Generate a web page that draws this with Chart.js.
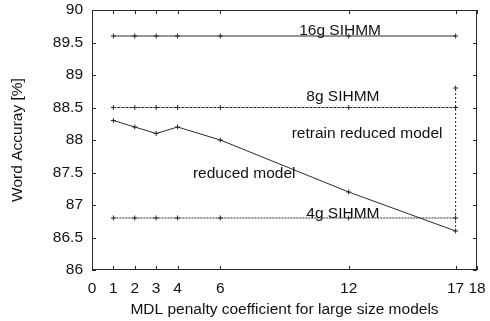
<!DOCTYPE html>
<html lang="en">
<head>
    <meta charset="UTF-8">
    <title>Word accuracy vs MDL penalty coefficient</title>
    <script src="https://cdn.jsdelivr.net/npm/chart.js"></script>
    <style>
        html, body { margin: 0; padding: 0; background: #fff; }
        .wrap { width: 490px; height: 321px; }
    </style>
</head>
<body>
    <div class="wrap"><canvas id="chart" width="490" height="321"></canvas></div>

    <script>
        // MDL penalty coefficients
        const penalty = [1, 2, 3, 4, 6, 12, 17];
        // word accuracy [%]
        const sihmm16 = [89.6, 89.6, 89.6, 89.6, 89.6, 89.6, 89.6];
        const sihmm8 = [88.5, 88.5, 88.5, 88.5, 88.5, 88.5, 88.5];
        const sihmm4 = [86.8, 86.8, 86.8, 86.8, 86.8, 86.8, 86.8];
        const reduced = [88.3, 88.2, 88.1, 88.2, 88.0, 87.2, 86.6];
        // retrain at coefficient 17: from reduced to retrained accuracy
        const retrainX = [17, 17];
        const retrainY = [86.6, 88.8];

        const xTicks = [0, 1, 2, 3, 4, 6, 12, 17, 18];
        const yTicks = [86, 86.5, 87, 87.5, 88, 88.5, 89, 89.5, 90];

        const ink = '#2a2a2a';
        const font = "'Liberation Sans', Arial, sans-serif";
        const fs = 15.5;

        function pts(xs, ys) {
            return xs.map((x, i) => ({ x: x, y: ys[i] }));
        }

        function series(data, dash) {
            return {
                data: data,
                borderColor: ink,
                backgroundColor: ink,
                borderWidth: 1,
                borderDash: dash,
                pointStyle: 'cross',
                pointRadius: 2.5,
                pointBorderWidth: 1,
                pointBorderColor: ink,
                tension: 0
            };
        }

        // text labels placed in data coordinates
        const labels = [
            { text: '16g SIHMM', x: 11.6, y: 89.68, align: 'center' },
            { text: '8g SIHMM', x: 11.73, y: 88.66, align: 'center' },
            { text: 'retrain reduced model', x: 12.86, y: 88.09, align: 'center' },
            { text: 'reduced model', x: 4.72, y: 87.48, align: 'left' },
            { text: '4g SIHMM', x: 11.73, y: 86.87, align: 'center' }
        ];

        const framePlugin = {
            id: 'frame',
            afterDraw(chart) {
                const ctx = chart.ctx;
                const a = chart.chartArea;
                const xs = chart.scales.x;
                const ys = chart.scales.y;
                const len = 4;
                ctx.save();
                ctx.strokeStyle = ink;
                ctx.lineWidth = 1;
                ctx.strokeRect(a.left + 0.5, a.top + 0.5, a.right - a.left - 1, a.bottom - a.top - 1);
                ctx.beginPath();
                xTicks.forEach(v => {
                    const px = Math.round(xs.getPixelForValue(v)) + 0.5;
                    ctx.moveTo(px, a.bottom);
                    ctx.lineTo(px, a.bottom - len);
                    ctx.moveTo(px, a.top);
                    ctx.lineTo(px, a.top + len);
                });
                yTicks.forEach(v => {
                    const py = Math.round(ys.getPixelForValue(v)) + 0.5;
                    ctx.moveTo(a.left, py);
                    ctx.lineTo(a.left + len, py);
                    ctx.moveTo(a.right, py);
                    ctx.lineTo(a.right - len, py);
                });
                ctx.stroke();

                ctx.fillStyle = '#111';
                ctx.font = fs + 'px ' + font;
                ctx.textBaseline = 'middle';
                labels.forEach(l => {
                    ctx.textAlign = l.align;
                    ctx.fillText(l.text, xs.getPixelForValue(l.x), ys.getPixelForValue(l.y));
                });
                ctx.restore();
            }
        };

        new Chart(document.getElementById('chart'), {
            type: 'line',
            data: {
                datasets: [
                    series(pts(penalty, sihmm16), []),
                    series(pts(penalty, sihmm8), [3, 1]),
                    series(pts(penalty, sihmm4), [2, 1]),
                    series(pts(penalty, reduced), []),
                    Object.assign(series(pts(retrainX, retrainY), [2, 2]), { pointRadius: [0, 2.5] })
                ]
            },
            options: {
                responsive: false,
                animation: false,
                layout: { padding: { left: 0, right: 13, top: 10, bottom: 0 } },
                plugins: {
                    legend: { display: false },
                    tooltip: { enabled: false }
                },
                scales: {
                    x: {
                        type: 'linear',
                        min: 0,
                        max: 18,
                        afterBuildTicks: axis => { axis.ticks = xTicks.map(v => ({ value: v })); },
                        afterFit: axis => { axis.height = 51; axis.paddingLeft = 0; axis.paddingRight = 0; },
                        grid: { display: false, drawTicks: false },
                        border: { display: false },
                        ticks: {
                            color: '#111',
                            padding: 9,
                            autoSkip: false,
                            maxRotation: 0,
                            font: { family: font, size: fs }
                        },
                        title: {
                            display: true,
                            text: 'MDL penalty coefficient for large size models',
                            color: '#111',
                            padding: { top: 2, bottom: 2 },
                            font: { family: font, size: fs }
                        }
                    },
                    y: {
                        min: 86,
                        max: 90,
                        afterBuildTicks: axis => { axis.ticks = yTicks.map(v => ({ value: v })); },
                        afterFit: axis => { axis.width = 92; axis.paddingTop = 0; axis.paddingBottom = 0; },
                        grid: { display: false, drawTicks: false },
                        border: { display: false },
                        ticks: {
                            color: '#111',
                            padding: 9,
                            callback: v => String(v),
                            font: { family: font, size: fs }
                        },
                        title: {
                            display: true,
                            text: 'Word Accuray [%]',
                            color: '#111',
                            padding: { top: 8, bottom: 4 },
                            font: { family: font, size: fs }
                        }
                    }
                }
            },
            plugins: [framePlugin]
        });
    </script>
</body>
</html>
